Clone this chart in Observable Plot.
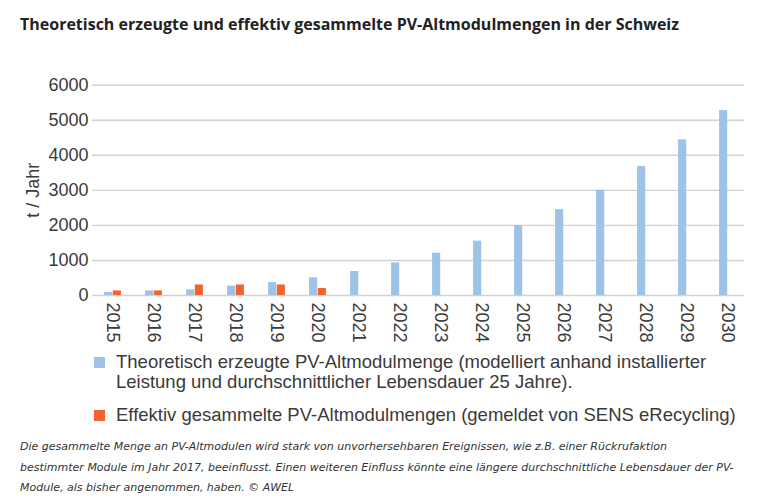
<!DOCTYPE html>
<html>
<head>
<meta charset="utf-8">
<script src="https://cdn.jsdelivr.net/npm/d3@7"></script>
<script src="https://cdn.jsdelivr.net/npm/@observablehq/plot@0.6"></script>
<style>
  html, body { margin: 0; padding: 0; background: #fff; }
  #page { position: relative; width: 779px; height: 501px; overflow: hidden; }
  #title { position: absolute; left: 20px; top: 13px; font-family: "Open Sans", sans-serif; font-weight: 700; font-size: 16px; color: #222; white-space: nowrap; }
  #chart { position: absolute; left: 0; top: 60px; }
  .leg { position: absolute; left: 94px; font-family: "Liberation Sans", Arial, sans-serif; font-size: 18.5px; line-height: 20px; color: #3a3a3a; }
  .leg .sw { position: absolute; left: 0; top: 5px; width: 11px; height: 11px; }
  .leg .tx { position: absolute; left: 22px; top: 0; white-space: nowrap; }
  #caption { position: absolute; left: 20px; top: 437px; font-family: "DejaVu Sans", sans-serif; font-style: italic; font-size: 11px; line-height: 20.5px; color: #333; white-space: nowrap; }
</style>
</head>
<body>
<div id="page">
  <div id="title"></div>
  <div id="chart"></div>
  <div class="leg" id="leg1" style="top:352px"><div class="sw"></div><div class="tx"></div></div>
  <div class="leg" id="leg2" style="top:404.5px"><div class="sw"></div><div class="tx"></div></div>
  <div id="caption"></div>
</div>
<script>
const titleText = "Theoretisch erzeugte und effektiv gesammelte PV-Altmodulmengen in der Schweiz";
const years = ["2015","2016","2017","2018","2019","2020","2021","2022","2023","2024","2025","2026","2027","2028","2029","2030"];
const theoretical = [90, 130, 160, 265, 370, 505, 685, 930, 1205, 1550, 1995, 2450, 3005, 3680, 4440, 5275];
const collectedYears = ["2015","2016","2017","2018","2019","2020"];
const collected = [130, 130, 300, 300, 300, 200];
const yTicks = [0, 1000, 2000, 3000, 4000, 5000, 6000];
const yLabel = "t / Jahr";
const seriesNames = [
  "Theoretisch erzeugte PV-Altmodulmenge (modelliert anhand installierter\nLeistung und durchschnittlicher Lebensdauer 25 Jahre).",
  "Effektiv gesammelte PV-Altmodulmengen (gemeldet von SENS eRecycling)"
];
const seriesColors = ["#9dc3e6", "#f4622d"];
const captionLines = [
  "Die gesammelte Menge an PV-Altmodulen wird stark von unvorhersehbaren Ereignissen, wie z.B. einer Rückrufaktion",
  "bestimmter Module im Jahr 2017, beeinflusst. Einen weiteren Einfluss könnte eine längere durchschnittliche Lebensdauer der PV-",
  "Module, als bisher angenommen, haben. © AWEL"
];

const blueData = years.map((y, i) => ({year: y, value: theoretical[i]}));
const orangeData = collectedYears.map((y, i) => ({year: y, value: collected[i]}));

const step = 41.6;
const barW = 8.7;
const half = step / 2;

const chart = Plot.plot({
  width: 779,
  height: 290,
  marginTop: 24.7,
  marginBottom: 55,
  marginLeft: 92,
  marginRight: 35,
  style: { fontFamily: "'Liberation Sans', Arial, sans-serif", fontSize: "18px", color: "#3a3a3a", background: "#fff" },
  x: { type: "band", domain: years, range: [108.3 - half, 108.3 - half + step * years.length], padding: 0 },
  y: { domain: [0, 6000] },
  marks: [
    Plot.ruleY(yTicks, { stroke: "#d2d2d2", strokeWidth: 1.4 }),
    Plot.barY(blueData, { x: "year", y: "value", fill: seriesColors[0], insetLeft: half - barW, insetRight: half }),
    Plot.barY(orangeData, { x: "year", y: "value", fill: seriesColors[1], insetLeft: half, insetRight: half - barW }),
    Plot.axisY(yTicks, { tickSize: 0, tickPadding: 4, label: null, fontSize: 18, tickFormat: d => String(d) }),
    Plot.axisX(years, { tickSize: 0, tickPadding: 7, tickRotate: 90, label: null, fontSize: 18 }),
    Plot.text([yLabel], { frameAnchor: "left", textAnchor: "middle", rotate: -90, dx: -59, fontSize: 18, fill: "#3a3a3a" })
  ]
});
document.getElementById("chart").appendChild(chart);

document.getElementById("title").textContent = titleText;
["leg1", "leg2"].forEach((id, i) => {
  const el = document.getElementById(id);
  el.querySelector(".sw").style.background = seriesColors[i];
  el.querySelector(".tx").innerHTML = seriesNames[i].split("\n").join("<br>");
});
document.getElementById("caption").innerHTML = captionLines.join("<br>");
</script>
</body>
</html>
